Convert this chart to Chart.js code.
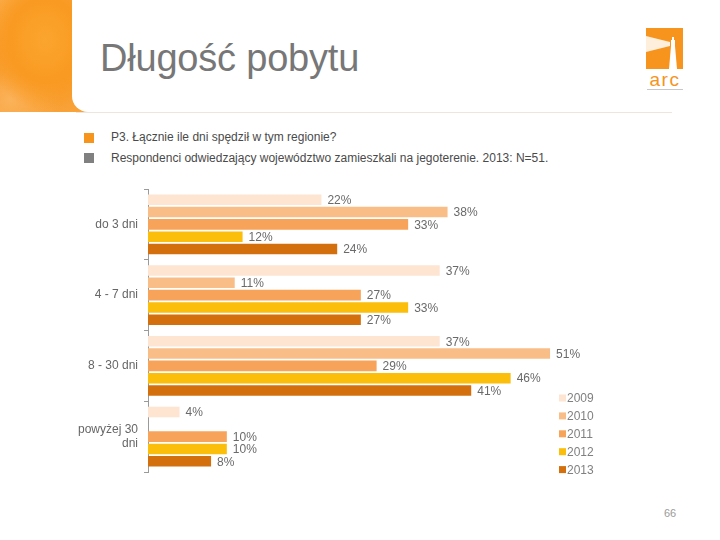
<!DOCTYPE html>
<html>
<head>
<meta charset="utf-8">
<script src="https://cdn.jsdelivr.net/npm/chart.js@4"></script>
<style>
  body { margin: 0; width: 720px; height: 540px; background: #fff; position: relative; overflow: hidden; font-family: "Liberation Sans", Arial, sans-serif; }
  .side { position: absolute; left: 0; top: 0; width: 90px; height: 112px;
    background: radial-gradient(ellipse 60px 70px at 45px 40px, #fba52e 0%, #f99a22 60%, rgba(249,154,34,0) 100%),
                radial-gradient(ellipse 50px 50px at 10px 100px, #fbb25a 0%, rgba(251,178,90,0) 100%),
                linear-gradient(160deg, #fbac4a 0%, #f7941d 50%, #f9a43c 100%); }
  .panel { position: absolute; left: 72px; top: 0; width: 660px; height: 112px; background: #fff; border-bottom-left-radius: 16px; }
  .rule { position: absolute; left: 76px; top: 112px; width: 596px; height: 1px; background: #ece6de; }
  .title { position: absolute; left: 100px; top: 37px; font-size: 38px; color: #777; letter-spacing: -0.2px; }
  .bullet { position: absolute; left: 84px; width: 10px; height: 10px; }
  .note { position: absolute; left: 111px; font-size: 12px; color: #4a4a4a; }
  .page { position: absolute; left: 664px; top: 507px; font-size: 11px; color: #9a9a9a; }
  canvas { position: absolute; left: 0; top: 0; }
</style>
</head>
<body>
<div class="side"></div>
<div class="panel"></div>
<div class="rule"></div>
<div class="title">Długość pobytu</div>
<svg style="position:absolute;left:644px;top:27px" width="42" height="66" viewBox="0 0 42 66">
  <rect x="2" y="1" width="37" height="41" fill="#f7941d"/>
  <polygon points="2,9 26,15 26,19 2,25" fill="#fff" opacity="0.85"/>
  <polygon points="25,42 27,19 31,19 33,42" fill="#fff"/>
  <rect x="27" y="13" width="4" height="6" fill="#fff"/>
  <rect x="28" y="10" width="2" height="3" fill="#fff"/>
  <text x="21" y="59" text-anchor="middle" font-family="Liberation Sans, Arial" font-size="19" fill="#f7941d" letter-spacing="1.5">arc</text>
  <rect x="3" y="62" width="36" height="1" fill="#c8c8c8"/>
</svg>
<div class="bullet" style="top:133px;background:#f7941d"></div>
<div class="note" style="top:130px">P3. Łącznie ile dni spędził w tym regionie?</div>
<div class="bullet" style="top:153px;background:#808080"></div>
<div class="note" style="top:151px">Respondenci odwiedzający województwo zamieszkali na jegoterenie. 2013: N=51.</div>
<div class="page">66</div>
<canvas id="chart" width="720" height="540"></canvas>
<script>
const categories = ['do 3 dni', '4 - 7 dni', '8 - 30 dni', ['powyżej 30', 'dni']];
const years = ['2009', '2010', '2011', '2012', '2013'];
const values2009 = [22, 37, 37, 4];
const values2010 = [38, 11, 51, null];
const values2011 = [33, 27, 29, 10];
const values2012 = [12, 33, 46, 10];
const values2013 = [24, 27, 41, 8];
const colors = ['#fde5d2', '#f9be88', '#f7a35a', '#fbbe0a', '#d3700d'];

const series = [values2009, values2010, values2011, values2012, values2013];
const FONT = '"Liberation Sans", Arial, sans-serif';

// percent labels at the end of every bar
const valueLabels = {
    id: 'valueLabels',
    afterDatasetsDraw(chart) {
        const ctx = chart.ctx;
        ctx.save();
        ctx.font = '12px ' + FONT;
        ctx.fillStyle = '#6a6a6a';
        ctx.textBaseline = 'middle';
        chart.data.datasets.forEach((ds, i) => {
            chart.getDatasetMeta(i).data.forEach((bar, j) => {
                if (ds.data[j] == null) return;
                ctx.fillText(ds.data[j] + '%', bar.x + 6, bar.y + 1);
            });
        });
        ctx.restore();
    }
};

// small legend in the lower right corner
const sideLegend = {
    id: 'sideLegend',
    afterDraw(chart) {
        const ctx = chart.ctx;
        ctx.save();
        ctx.font = '12px ' + FONT;
        ctx.textBaseline = 'middle';
        chart.data.datasets.forEach((ds, i) => {
            const y = 398 + i * 17.9;
            ctx.fillStyle = ds.backgroundColor;
            ctx.fillRect(559, y - 3.5, 7, 7);
            ctx.fillStyle = '#808080';
            ctx.fillText(ds.label, 567, y + 1);
        });
        ctx.restore();
    }
};

new Chart(document.getElementById('chart').getContext('2d'), {
    type: 'bar',
    data: {
        labels: categories,
        datasets: years.map((y, i) => ({
            label: y,
            data: series[i],
            backgroundColor: colors[i],
            borderWidth: 0,
            categoryPercentage: 0.87,
            barPercentage: 0.86
        }))
    },
    options: {
        indexAxis: 'y',
        responsive: false,
        animation: false,
        layout: { padding: { top: 189, bottom: 68, left: 0, right: 99 } },
        scales: {
            x: { display: false, min: 0, max: 60 },
            y: {
                afterFit(scale) { scale.width = 148; },
                border: { color: '#9a9a9a', width: 1 },
                grid: { drawOnChartArea: false, tickLength: 4, color: '#9a9a9a' },
                ticks: { padding: 6, color: '#666', font: { family: FONT, size: 12 } }
            }
        },
        plugins: {
            legend: { display: false },
            tooltip: { enabled: false }
        }
    },
    plugins: [valueLabels, sideLegend]
});
</script>
</body>
</html>
